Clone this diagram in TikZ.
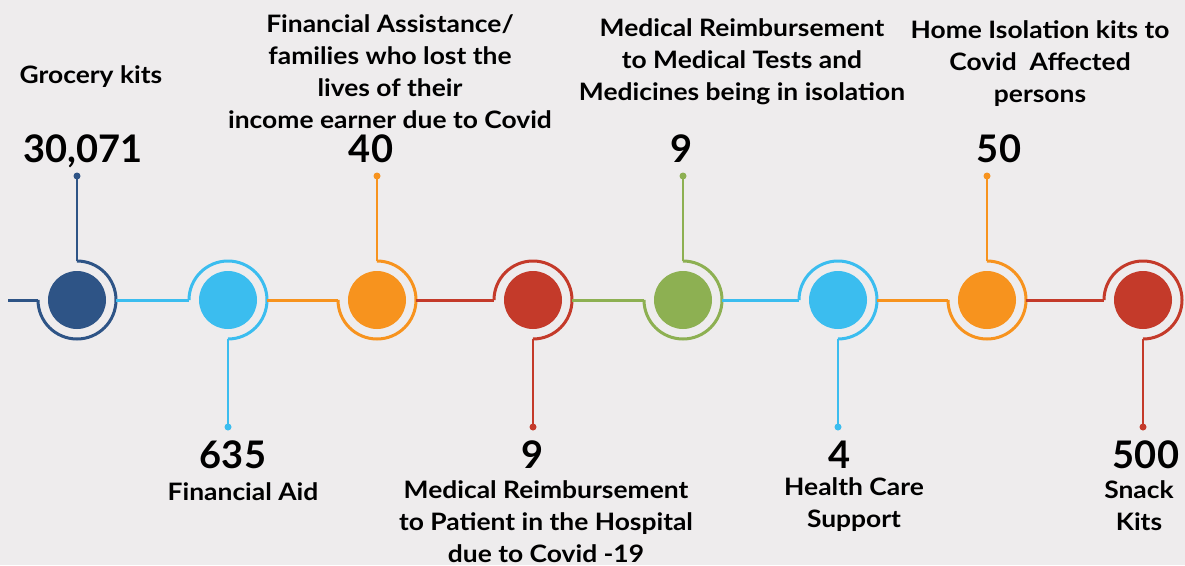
\documentclass[tikz,border=0pt]{standalone}
\usepackage{fontspec}
\setmainfont{Lato}
\newfontfamily\lblfont{Lato}[FakeStretch=1.1]
\definecolor{tlnavy}{RGB}{46,84,134}
\definecolor{tlsky}{RGB}{59,189,239}
\definecolor{tlorange}{RGB}{247,147,30}
\definecolor{tlred}{RGB}{196,58,42}
\definecolor{tlgreen}{RGB}{141,176,82}
\definecolor{paper}{RGB}{238,236,237}
\begin{document}
\begin{tikzpicture}[x=1pt, y=1pt,
    ring/.style={circle, minimum size=78pt, inner sep=0pt, outer sep=0pt},
    ball/.style={circle, minimum size=58pt, inner sep=0pt, fill=#1},
    wire/.style={line width=3pt, draw=#1},
    stem/.style={line width=2.5pt, draw=#1},
    tip/.style={circle, minimum size=7pt, inner sep=0pt, fill=#1},
    num/.style={anchor=base, inner sep=0pt, font=\fontsize{38}{40}\selectfont\bfseries},
    lbl/.style={anchor=north, inner sep=0pt, align=center, font=\lblfont\fontsize{24}{32}\selectfont\bfseries}]

    % Background
    \fill[paper] (0,0) rectangle (1185,-565);
    \useasboundingbox (0,0) rectangle (1185,-565);

    % Rings (invisible, used as anchors)
    \node[ring] (r1) at (77,-300) {};
    \node[ring] (r2) at (228,-300) {};
    \node[ring] (r3) at (377,-300) {};
    \node[ring] (r4) at (533,-300) {};
    \node[ring] (r5) at (683,-300) {};
    \node[ring] (r6) at (838,-300) {};
    \node[ring] (r7) at (987,-300) {};
    \node[ring] (r8) at (1143,-300) {};

    % Discs
    \node[ball=tlnavy] (b1) at (r1) {};
    \node[ball=tlsky] (b2) at (r2) {};
    \node[ball=tlorange] (b3) at (r3) {};
    \node[ball=tlred] (b4) at (r4) {};
    \node[ball=tlgreen] (b5) at (r5) {};
    \node[ball=tlsky] (b6) at (r6) {};
    \node[ball=tlorange] (b7) at (r7) {};
    \node[ball=tlred] (b8) at (r8) {};

    % Arcs round the discs
    \draw[wire=tlnavy] (r1.west) arc[start angle=180, end angle=450, radius=39pt];
    \draw[wire=tlsky] (r2.west) arc[start angle=180, end angle=-90, radius=39pt];
    \draw[wire=tlorange] (r3.west) arc[start angle=180, end angle=450, radius=39pt];
    \draw[wire=tlred] (r4.west) arc[start angle=180, end angle=-90, radius=39pt];
    \draw[wire=tlgreen] (r5.west) arc[start angle=180, end angle=450, radius=39pt];
    \draw[wire=tlsky] (r6.west) arc[start angle=180, end angle=-90, radius=39pt];
    \draw[wire=tlorange] (r7.west) arc[start angle=180, end angle=450, radius=39pt];
    \draw[wire=tlred] (r8.west) arc[start angle=180, end angle=-90, radius=39pt];

    % Timeline between the rings
    \coordinate (start) at (8,-300);
    \draw[wire=tlnavy] (start) -- (r1.west);
    \draw[wire=tlsky] (r1.east) -- (r2.west);
    \draw[wire=tlorange] (r2.east) -- (r3.west);
    \draw[wire=tlred] (r3.east) -- (r4.west);
    \draw[wire=tlgreen] (r4.east) -- (r5.west);
    \draw[wire=tlsky] (r5.east) -- (r6.west);
    \draw[wire=tlorange] (r6.east) -- (r7.west);
    \draw[wire=tlred] (r7.east) -- (r8.west);

    % Stems up
    \node[tip=tlnavy] (t1) at (77,-176) {};
    \node[tip=tlorange] (t3) at (377,-176) {};
    \node[tip=tlgreen] (t5) at (683,-176) {};
    \node[tip=tlorange] (t7) at (987,-176) {};
    \draw[stem=tlnavy] (r1.north) -- (t1.center);
    \draw[stem=tlorange] (r3.north) -- (t3.center);
    \draw[stem=tlgreen] (r5.north) -- (t5.center);
    \draw[stem=tlorange] (r7.north) -- (t7.center);

    % Stems down
    \node[tip=tlsky] (t2) at (228,-427) {};
    \node[tip=tlred] (t4) at (533,-427) {};
    \node[tip=tlsky] (t6) at (838,-427) {};
    \node[tip=tlred] (t8) at (1143,-427) {};
    \draw[stem=tlsky] (r2.south) -- (t2.center);
    \draw[stem=tlred] (r4.south) -- (t4.center);
    \draw[stem=tlsky] (r6.south) -- (t6.center);
    \draw[stem=tlred] (r8.south) -- (t8.center);

    % Numbers
    \node[num] (n1) at (83,-162) {30,071};
    \node[num] (n2) at (233,-468) {635};
    \node[num] (n3) at (371,-162) {40};
    \node[num] (n4) at (533,-468) {9};
    \node[num] (n5) at (682,-162) {9};
    \node[num] (n6) at (840,-468) {4};
    \node[num] (n7) at (999,-162) {50};
    \node[num] (n8) at (1146,-468) {500};

    % Labels
    \node[lbl] (l1) at (91,-65) {Grocery kits};
    \node[lbl] (l2) at (243,-482) {Financial Aid};
    \node[lbl] (l3) at (390,-14) {Financial Assistance/\\families who lost the\\lives of their\\income earner due to Covid};
    \node[lbl] (l4) at (546,-480) {Medical Reimbursement\\to Patient in the Hospital\\due to Covid -19};
    \node[lbl] (l5) at (742,-18) {Medical Reimbursement\\to Medical Tests and\\Medicines being in isolation};
    \node[lbl] (l6) at (854,-477) {Health Care\\Support};
    \node[lbl] (l7) at (1040,-20) {Home Isolation kits to\\Covid~~Affected\\persons};
    \node[lbl] (l8) at (1139,-480) {Snack\\Kits};
\end{tikzpicture}
\end{document}
